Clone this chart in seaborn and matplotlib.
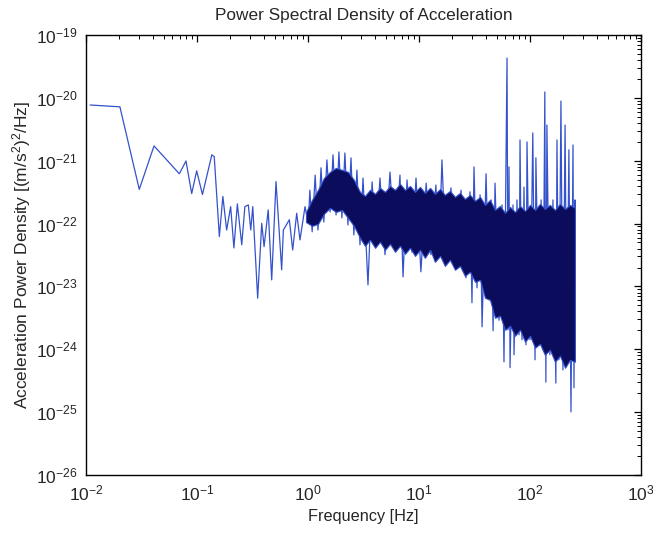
import matplotlib
matplotlib.use("Agg")
import matplotlib.pyplot as plt
from matplotlib.ticker import LogLocator, NullFormatter, LogFormatterSciNotation
import pandas as pd
import seaborn as sns

# ---- sparse low-frequency part of the spectrum (Hz, (m/s^2)^2/Hz) ----
low_freq = [0.0109, 0.0202, 0.0302, 0.041, 0.0693, 0.0796, 0.0896, 0.0993, 0.112,
            0.136, 0.143, 0.159, 0.171, 0.185, 0.201, 0.215, 0.231, 0.253, 0.270,
            0.290, 0.305, 0.318, 0.352, 0.383, 0.402, 0.438, 0.471, 0.515, 0.551,
            0.579, 0.600, 0.679, 0.728, 0.791, 0.847, 0.940, 1.006]
low_psd = [7.7e-21, 7.2e-21, 3.5e-22, 1.72e-21, 6.2e-22, 9.9e-22, 3.0e-22, 6.9e-22, 2.9e-22,
           1.24e-21, 1.16e-21, 6.2e-23, 2.7e-22, 7.9e-23, 1.86e-22, 4.1e-23, 2.06e-22, 4.6e-23, 1.86e-22,
           1.98e-22, 7.9e-23, 1.86e-22, 6.5e-24, 1.01e-22, 4.3e-23, 1.65e-22, 1.27e-23, 4.66e-22, 7.0e-23,
           1.84e-23, 7.9e-23, 1.15e-22, 3.8e-23, 1.46e-22, 5.5e-23, 1.86e-22, 1.0e-22]

# ---- peaks and dips of the dense part (1 Hz .. 254 Hz) ----
spike_freq = [1.04, 1.09, 1.16, 1.23, 1.31, 1.39, 1.48, 1.58, 1.68, 1.79, 1.90, 2.02, 2.15, 2.29,
              2.44, 2.59, 2.76, 2.94, 3.13, 3.47, 3.78, 4.10, 4.45, 4.94, 5.48, 6.08, 6.74, 7.18,
              7.80, 8.65, 9.40, 10.4, 11.6, 12.8, 14.2, 15.1, 16.1, 17.5, 19.4, 21.5, 23.9, 26.5,
              28.8, 30.0, 31.3, 33.3, 35.5, 37.0, 40.2, 42.8, 44.6, 46.5, 48.4, 52.6, 56.0, 58.3,
              62.1, 63.4, 64.7, 66.1, 70.3, 71.8, 76.4, 79.6, 81.3, 84.7, 88.3, 92.0, 94.0, 100,
              106, 111, 113, 121, 126, 131, 136, 139, 142, 151, 161, 171, 175, 182, 190, 198,
              207, 215, 224, 234, 244, 249, 254, 254]
spike_psd = [3.4e-22, 7.4e-23, 5.9e-22, 7.9e-23, 7.7e-22, 1.06e-22, 1.03e-21, 1.53e-22, 1.24e-21,
             1.37e-22, 1.38e-21, 1.23e-22, 1.33e-21, 9.5e-23, 1.11e-21, 6.6e-23, 7.1e-22, 4.6e-23,
             5.3e-22, 1.06e-23, 4.6e-22, 4.6e-23, 5.3e-22, 3.2e-23, 6.6e-22, 3.8e-23, 5.9e-22,
             1.42e-23, 4.95e-22, 3.5e-23, 5.3e-22, 1.71e-23, 4.4e-22, 3.2e-23, 4.1e-22, 2.85e-23,
             1.03e-21, 2.46e-23, 3.7e-22, 1.98e-23, 3.4e-22, 1.37e-23, 3.2e-22, 5.5e-24, 7.97e-22,
             9.5e-24, 2.86e-22, 2.28e-24, 6.2e-22, 6.1e-24, 2.38e-22, 1.97e-24, 4.4e-22, 2.9e-24,
             1.98e-22, 6.3e-25, 4.3e-20, 2.04e-24, 7.97e-22, 5.1e-25, 1.98e-22, 8.2e-25, 2.38e-22,
             1.70e-24, 2.14e-21, 1.42e-24, 3.8e-22, 1.18e-24, 1.99e-21, 1.42e-24, 2.77e-21, 6.8e-25,
             1.11e-21, 1.18e-24, 2.38e-22, 9.8e-25, 1.24e-20, 3.0e-25, 3.7e-21, 8.2e-25, 2.38e-22,
             2.9e-25, 2.14e-21, 6.8e-25, 8.9e-21, 4.7e-25, 3.7e-21, 6.8e-25, 1.49e-21, 1.01e-25,
             1.78e-21, 2.44e-25, 2.38e-22, 6.8e-25]

# ---- upper / lower edge of the densely filled core ----
band_freq = [0.959, 1.087, 1.231, 1.393, 1.578, 1.787, 2.023, 2.291, 2.594, 2.938, 3.26, 3.62,
             4.02, 4.45, 4.94, 5.48, 6.08, 6.74, 7.48, 8.30, 9.20, 10.2, 11.3, 12.6, 13.9, 15.5,
             17.1, 19.0, 21.1, 23.4, 25.9, 28.8, 32.0, 35.5, 39.3, 43.6, 48.4, 53.7, 59.6, 66.1,
             73.3, 81.3, 90.2, 100, 111, 123, 136, 151, 168, 186, 207, 229, 254]
band_upper = [1.53e-22, 2.38e-22, 3.44e-22, 5.33e-22, 6.64e-22, 7.69e-22, 7.14e-22, 6.64e-22,
              4.95e-22, 3.19e-22, 2.76e-22, 3.44e-22, 2.97e-22, 3.70e-22, 3.19e-22, 3.97e-22,
              3.44e-22, 4.28e-22, 3.44e-22, 3.97e-22, 3.19e-22, 3.83e-22, 3.08e-22, 3.70e-22,
              2.97e-22, 3.56e-22, 2.86e-22, 3.31e-22, 2.66e-22, 3.08e-22, 2.47e-22, 2.86e-22,
              2.30e-22, 2.66e-22, 1.98e-22, 2.38e-22, 1.65e-22, 1.91e-22, 1.48e-22, 1.84e-22,
              1.53e-22, 1.91e-22, 1.59e-22, 1.98e-22, 1.65e-22, 2.06e-22, 1.71e-22, 1.98e-22,
              1.65e-22, 2.06e-22, 1.71e-22, 1.98e-22, 1.78e-22]
band_lower = [1.06e-22, 9.19e-23, 9.89e-23, 1.43e-22, 1.78e-22, 1.53e-22, 1.65e-22, 1.23e-22,
              9.19e-23, 5.92e-23, 4.42e-23, 5.51e-23, 4.11e-23, 5.12e-23, 3.82e-23, 4.75e-23,
              3.55e-23, 4.42e-23, 3.30e-23, 4.11e-23, 3.06e-23, 3.82e-23, 2.85e-23, 3.82e-23,
              2.46e-23, 3.06e-23, 2.12e-23, 2.65e-23, 1.84e-23, 2.12e-23, 1.47e-23, 1.71e-23,
              1.18e-23, 1.27e-23, 6.59e-24, 6.12e-24, 3.17e-24, 3.41e-24, 2.04e-24, 2.37e-24,
              1.64e-24, 2.04e-24, 1.32e-24, 1.64e-24, 1.06e-24, 1.22e-24, 8.18e-25, 9.82e-25,
              6.33e-25, 7.88e-25, 5.08e-25, 6.81e-25, 6.33e-25]

title = "Power Spectral Density of Acceleration"
xlabel = "Frequency [Hz]"
ylabel = "Acceleration Power Density [(m/s$^2$)$^2$/Hz]"

sns.set_theme(style="white")
plt.rcParams["font.family"] = ["Liberation Sans", "DejaVu Sans"]
plt.rcParams["mathtext.fontset"] = "custom"
plt.rcParams["mathtext.rm"] = "Liberation Sans"
plt.rcParams["mathtext.it"] = "Liberation Sans:italic"
plt.rcParams["mathtext.bf"] = "Liberation Sans:bold"
plt.rcParams["mathtext.sf"] = "Liberation Sans"

fig = plt.figure(figsize=(6.53, 5.33), dpi=100)
ax = fig.add_axes([86 / 653, 1 - 475 / 533, 555 / 653, 440 / 533])
ax.set_xscale("log")
ax.set_yscale("log")

line_color = "#3452cc"
core_color = "#0c0c5c"

df = pd.DataFrame({"freq": low_freq + spike_freq, "psd": low_psd + spike_psd})
sns.lineplot(data=df, x="freq", y="psd", estimator=None, sort=False,
             color=line_color, linewidth=0.9, ax=ax, zorder=2)
ax.fill_between(band_freq, band_lower, band_upper, facecolor=core_color,
                edgecolor=line_color, linewidth=0.8, zorder=3)

ax.set_xlim(1e-2, 1e3)
ax.set_ylim(1e-26, 1e-19)

for axis in (ax.xaxis, ax.yaxis):
    axis.set_major_locator(LogLocator(base=10, numticks=20))
    axis.set_minor_locator(LogLocator(base=10, subs=range(2, 10), numticks=200))
    axis.set_minor_formatter(NullFormatter())
    axis.set_major_formatter(LogFormatterSciNotation())

ax.tick_params(which="both", direction="in", top=True, right=True, color="black")
ax.tick_params(which="major", length=5, width=0.9, labelsize=12.5, pad=6)
ax.tick_params(which="minor", length=3, width=0.7)
for s in ax.spines.values():
    s.set_color("black")
    s.set_linewidth(1.0)

ax.set_title(title, fontsize=12.4, pad=11)
ax.set_xlabel(xlabel, fontsize=11.7, labelpad=4)
ax.set_ylabel(ylabel, fontsize=12.5, labelpad=2)

fig.savefig("out.png", dpi=100)
